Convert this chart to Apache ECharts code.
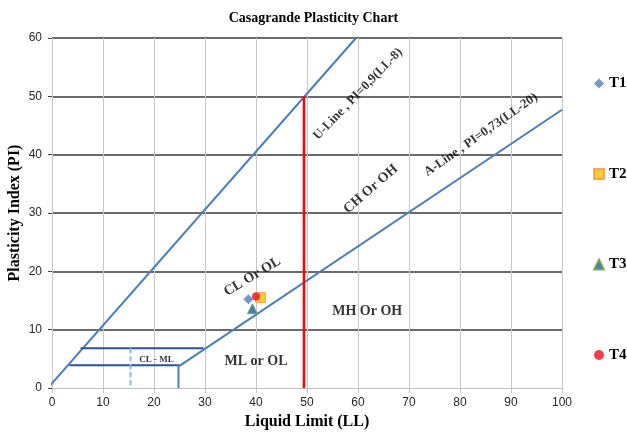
<!DOCTYPE html>
<html>
<head>
<meta charset="utf-8">
<script src="https://cdn.jsdelivr.net/npm/echarts@6/dist/echarts.min.js"></script>
<style>
  html, body { margin: 0; padding: 0; background: #fff; }
  #chart { width: 627px; height: 433px; }
</style>
</head>
<body>
<div id="chart"></div>
<script>
// Axis ranges and ticks
const xTicks = [0, 10, 20, 30, 40, 50, 60, 70, 80, 90, 100];
const yTicks = [0, 10, 20, 30, 40, 50, 60];

// Sample results: [liquid limit, plasticity index]
const sampleNames = ['T1', 'T2', 'T3', 'T4'];
const t1 = [[38.5, 15.2]];
const t2 = [[40.9, 15.5]];
const t3 = [[39.3, 13.6]];
const t4 = [[40.0, 15.7]];

// Classification boundaries as drawn: [LL, PI] end points
const uLine = [[-0.8, 0], [59.6, 60]];
const aLine = [[25, 3.8], [100, 47.7]];
const llFifty = [[49.4, 0], [49.4, 50]];
const clmlTop = [[5.6, 6.8], [29.7, 6.8]];
const clmlBottom = [[3.4, 3.9], [25, 3.9]];
const clmlRight = [[24.8, 3.9], [24.8, 0]];
const clmlDash = [[15.4, 6.8], [15.4, 0]];

// Zone and boundary captions
const captionTexts = ['U-Line , PI=0,9(LL-8)', 'A-Line , PI=0,73(LL-20)',
  'CH Or OH', 'CL Or OL', 'MH Or OH', 'ML or OL', 'CL - ML'];

const serif = '"Liberation Serif", "Times New Roman", serif';
const blue = '#4A7EBB';

// Where each caption sits (in axis units) and how it is turned
const captionPlacement = [
  { at: [60.0, 50.4], rotate: 46, size: 13 },
  { at: [84.1, 43.4], rotate: 35, size: 13 },
  { at: [62.5, 34.1], rotate: 41, size: 14 },
  { at: [39.3, 19.1], rotate: 31, size: 14 },
  { at: [61.8, 13.2], rotate: 0, size: 14 },
  { at: [40.0, 4.6], rotate: 0, size: 14 },
  { at: [20.5, 4.9], rotate: 0, size: 9 }
];

function boundary(name, pts, color, width, type) {
  return {
    name: name, type: 'line', data: pts, symbol: 'none', silent: true,
    lineStyle: { color: color, width: width, type: type || 'solid' },
    z: 3, animation: false
  };
}

const captionData = captionTexts.map((t, i) => ({
  value: captionPlacement[i].at,
  label: {
    show: true, formatter: t, rotate: captionPlacement[i].rotate,
    fontSize: captionPlacement[i].size
  }
}));

const chart = echarts.init(document.getElementById('chart'), null, { renderer: 'canvas' });
chart.setOption({
  animation: false,
  backgroundColor: '#fff',
  title: {
    text: 'Casagrande Plasticity Chart', left: 'center', top: 6,
    textStyle: { fontFamily: serif, fontWeight: 'bold', fontSize: 14, color: '#000' }
  },
  legend: {
    data: sampleNames, orient: 'vertical', left: 588, top: 71,
    itemWidth: 10, itemHeight: 10, itemGap: 75.5,
    textStyle: { fontFamily: serif, fontWeight: 'bold', fontSize: 15, color: '#000' }
  },
  grid: { left: 52, right: 65, top: 38, bottom: 45, containLabel: false, outerBoundsMode: 'none' },
  xAxis: {
    type: 'value', min: xTicks[0], max: xTicks[xTicks.length - 1], interval: 10,
    name: 'Liquid Limit (LL)', nameLocation: 'middle', nameGap: 26, nameMoveOverlap: false,
    nameTextStyle: { fontFamily: serif, fontWeight: 'bold', fontSize: 16, color: '#000' },
    axisLine: { show: true, lineStyle: { color: '#BFBFBF', width: 1 } },
    axisTick: { show: true, length: 5, lineStyle: { color: '#BFBFBF' } },
    axisLabel: { margin: 9, fontFamily: '"Liberation Sans", Arial, sans-serif', fontSize: 12, color: '#262626' },
    splitLine: { show: true, lineStyle: { color: '#C8C8C8', width: 1 } }
  },
  yAxis: {
    type: 'value', min: yTicks[0], max: yTicks[yTicks.length - 1], interval: 10,
    name: 'Plasticity Index (PI)', nameLocation: 'middle', nameGap: 29, nameRotate: 90,
    nameMoveOverlap: false,
    nameTextStyle: { fontFamily: serif, fontWeight: 'bold', fontSize: 16, color: '#000' },
    axisLine: { show: false },
    axisTick: { show: true, length: 4, lineStyle: { color: '#404040' } },
    axisLabel: { margin: 10, fontFamily: '"Liberation Sans", Arial, sans-serif', fontSize: 12, color: '#262626' },
    splitLine: {
      show: true, showMinLine: false,
      lineStyle: { color: '#3A3A3A', width: 1.5 }
    }
  },
  series: [
    boundary('U-Line', uLine, blue, 2),
    boundary('A-Line', aLine, blue, 2),
    boundary('LL50', llFifty, '#FF0000', 2.5),
    boundary('CL-ML top', clmlTop, '#2F4F9A', 2),
    boundary('CL-ML bottom', clmlBottom, '#2F4F9A', 2),
    boundary('CL-ML right', clmlRight, blue, 2),
    boundary('CL-ML split', clmlDash, '#8DB3E2', 2, [5, 3]),
    {
      name: 'captions', type: 'scatter', data: captionData, symbolSize: 0, silent: true, z: 4,
      label: {
        show: true, position: 'inside', align: 'center', verticalAlign: 'middle',
        fontFamily: serif, fontWeight: 'bold', color: '#000'
      }
    },
    { name: 'T1', type: 'scatter', data: t1, symbol: 'diamond', symbolSize: 10, z: 6,
      itemStyle: { color: '#4F81BD' } },
    { name: 'T2', type: 'scatter', data: t2, symbol: 'rect', symbolSize: 10, z: 5,
      itemStyle: { color: '#FFC000', borderColor: '#F79646', borderWidth: 1 } },
    { name: 'T3', type: 'scatter', data: t3, symbol: 'triangle', symbolSize: 10, z: 6,
      itemStyle: { color: '#1F5F99', borderColor: '#6AA84F', borderWidth: 1 } },
    { name: 'T4', type: 'scatter', data: t4, symbol: 'circle', symbolSize: 8, z: 7,
      itemStyle: { color: '#E8101A' } }
  ]
});
</script>
</body>
</html>
